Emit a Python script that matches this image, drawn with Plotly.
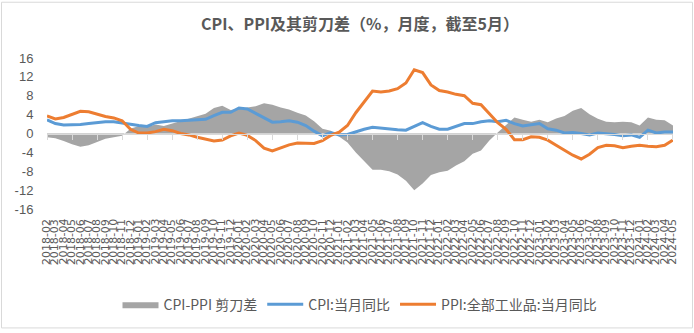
import plotly.graph_objects as go

months = (
    ["2018-%02d" % m for m in range(2, 13)]
    + ["%d-%02d" % (y, m) for y in range(2019, 2024) for m in range(1, 13)]
    + ["2024-%02d" % m for m in range(1, 6)]
)

cpi = [
    2.9, 2.1, 1.8, 1.8, 1.9, 2.1, 2.3, 2.5, 2.5, 2.2, 1.9,
    1.7, 1.5, 2.3, 2.5, 2.7, 2.7, 2.8, 2.8, 3.0, 3.8, 4.5, 4.5,
    5.4, 5.2, 4.3, 3.3, 2.4, 2.5, 2.7, 2.4, 1.7, 0.5, -0.5, 0.2,
    -0.3, -0.2, 0.4, 0.9, 1.3, 1.1, 1.0, 0.8, 0.7, 1.5, 2.3, 1.5,
    0.9, 0.9, 1.5, 2.1, 2.1, 2.5, 2.7, 2.5, 2.8, 2.1, 1.6, 1.8,
    2.1, 1.0, 0.7, 0.1, 0.2, 0.0, -0.3, 0.1, 0.0, -0.2, -0.5, -0.3,
    -0.8, 0.7, 0.1, 0.3, 0.3,
]

ppi = [
    3.7, 3.1, 3.4, 4.1, 4.7, 4.6, 4.1, 3.6, 3.3, 2.7, 0.9,
    0.1, 0.1, 0.4, 0.9, 0.6, 0.0, -0.3, -0.8, -1.2, -1.6, -1.4, -0.5,
    0.1, -0.4, -1.5, -3.1, -3.7, -3.0, -2.4, -2.0, -2.1, -2.1, -1.5, -0.4,
    0.3, 1.7, 4.4, 6.8, 9.0, 8.8, 9.0, 9.5, 10.7, 13.5, 12.9, 10.3,
    9.1, 8.8, 8.3, 8.0, 6.4, 6.1, 4.2, 2.3, 0.9, -1.3, -1.3, -0.7,
    -0.8, -1.4, -2.5, -3.6, -4.6, -5.4, -4.4, -3.0, -2.5, -2.6, -3.0, -2.7,
    -2.5, -2.7, -2.8, -2.5, -1.4,
]

spread = [
    -0.8, -1.0, -1.6, -2.3, -2.8, -2.5, -1.8, -1.1, -0.8, -0.5, 1.0,
    1.6, 1.4, 1.9, 1.6, 2.1, 2.7, 3.1, 3.6, 4.2, 5.4, 5.9, 5.0,
    5.3, 5.6, 5.8, 6.4, 6.1, 5.5, 5.1, 4.4, 3.8, 2.6, 1.0, 0.6,
    -0.6, -1.9, -4.0, -5.9, -7.7, -7.7, -8.0, -8.7, -10.0, -12.0, -10.6, -8.8,
    -8.2, -7.9, -6.8, -5.9, -4.3, -3.6, -1.5, 0.2, 1.9, 3.4, 2.9, 2.5,
    2.9, 2.4, 3.2, 3.7, 4.8, 5.4, 4.1, 3.1, 2.5, 2.4, 2.5, 2.4,
    1.7, 3.4, 2.9, 2.8, 1.7,
]

y_ticks = [16, 12, 8, 4, 0, -4, -8, -12, -16]

TXT = "#595959"
CJK = "Noto Sans CJK SC"

fig = go.Figure()
fig.add_trace(go.Scatter(
    x=months, y=spread, name="CPI-PPI 剪刀差", mode="lines",
    line=dict(width=0, color="#A5A5A5"), fill="tozeroy", fillcolor="#A5A5A5",
))
fig.add_trace(go.Scatter(
    x=months, y=cpi, name="CPI:当月同比", mode="lines",
    line=dict(width=3, color="#5B9BD5"),
))
fig.add_trace(go.Scatter(
    x=months, y=ppi, name="PPI:全部工业品:当月同比", mode="lines",
    line=dict(width=3, color="#ED7D31"),
))

L, R, T, B = 47, 21, 58, 122
W, H = 694, 333
pw, ph = W - L - R, H - T - B
xr = [-0.001, len(months) - 1 + 0.001]

# month labels along the bottom of the plot area (rotated, one per month)
label_top = -(220 - (T + ph)) / ph
for m in months:
    fig.add_annotation(
        x=m, xref="x", y=label_top, yref="paper",
        text=m, textangle=-90, showarrow=False,
        xanchor="center", yanchor="top", borderpad=0,
        font=dict(family="DejaVu Sans", size=11, color=TXT),
    )

fig.update_layout(
    width=W, height=H,
    margin=dict(l=L, r=R, t=T, b=B, pad=0),
    paper_bgcolor="white", plot_bgcolor="white",
    font=dict(family=CJK, color=TXT, size=13),
    title=dict(
        text="<b>CPI、PPI及其剪刀差（%，月度，截至5月）</b>",
        x=0.5, xanchor="center", xref="paper", y=1 - 24 / H, yanchor="middle",
        font=dict(family=CJK, size=16, color=TXT),
    ),
    xaxis=dict(
        type="category", range=xr, anchor="free", position=0.5,
        tickmode="linear", tick0=0, dtick=3, ticks="outside", ticklen=5,
        tickcolor="#D9D9D9", tickwidth=1, showticklabels=False,
        showline=True, linecolor="#D9D9D9", linewidth=1,
        showgrid=False, zeroline=False, fixedrange=True,
    ),
    yaxis=dict(
        range=[-16, 16], tickmode="array", tickvals=y_ticks,
        ticktext=[str(v) for v in y_ticks],
        ticks="outside", ticklen=10, tickcolor="rgba(0,0,0,0)",
        tickfont=dict(family="Liberation Sans", size=13, color=TXT),
        showline=False, showgrid=False, zeroline=False,
    ),
    legend=dict(
        orientation="h", x=0.5, xanchor="center", y=-(308 - (T + ph)) / ph,
        yanchor="middle", font=dict(family=CJK, size=14, color=TXT),
        itemwidth=36, tracegroupgap=0, bgcolor="rgba(0,0,0,0)",
    ),
    showlegend=True,
)

fig.add_shape(
    type="rect", xref="paper", yref="paper",
    x0=-(L - 1.5) / pw, x1=1 + (R - 1.5) / pw,
    y0=-(B - 1.5) / ph, y1=1 + (T - 1.5) / ph,
    line=dict(color="#D9D9D9", width=1), fillcolor="rgba(0,0,0,0)", layer="below",
)

fig.write_html("out.html")
